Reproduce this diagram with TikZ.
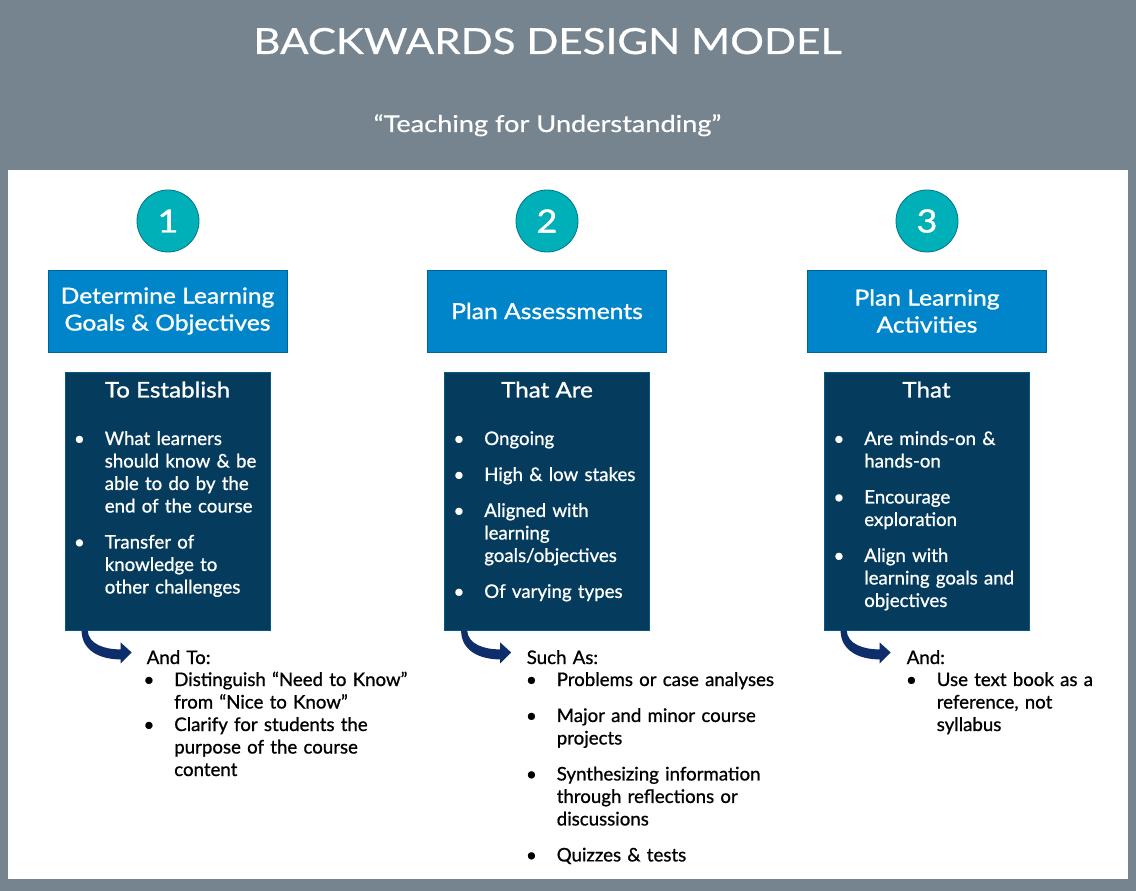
\documentclass[tikz,border=0pt]{standalone}
\usepackage{fontspec}
\setmainfont{Lato}[FakeBold=0.9]
\newfontfamily\widefont{Lato}[FakeBold=1.1, FakeStretch=1.12]
\newfontfamily\headfont{Lato}[FakeBold=0.6, FakeStretch=1.17]
\usetikzlibrary{positioning}
\definecolor{framegray}{HTML}{76848F}
\definecolor{stepteal}{HTML}{00B0B9}
\definecolor{goalblue}{HTML}{0085CA}
\definecolor{listnavy}{HTML}{053B5C}
\definecolor{arrownavy}{HTML}{0E2D6B}
\newcommand{\bul}{\leavevmode\llap{\makebox[0pt]{•}\hspace{19pt}}}
\newcommand{\itemgap}{10.1pt}

\tikzset{
  pagetitle/.style={anchor=base, inner sep=0pt, text=white, font=\headfont\fontsize{27}{32}\selectfont},
  subtitle/.style={anchor=base, inner sep=0pt, text=white, font=\headfont\fontsize{17.4}{20}\selectfont},
  stepnum/.style={circle, fill=stepteal, draw=stepteal!50!listnavy, line width=0.6pt,
    minimum size=46.5pt, inner sep=0pt, text=white, font=\widefont\fontsize{24}{28}\selectfont},
  goalbox/.style={fill=goalblue, draw=goalblue!75!black, line width=0.6pt, inner sep=0pt,
    minimum width=179.25pt, minimum height=61.5pt, align=center, text=white,
    font=\widefont\fontsize{16.5}{20.25}\selectfont},
  listbox/.style={fill=listnavy, draw=listnavy!60!goalblue, line width=0.6pt, inner sep=0pt,
    minimum width=153.75pt, minimum height=193.5pt},
  listhead/.style={anchor=base, inner sep=0pt, text=white, font=\widefont\fontsize{16.2}{19}\selectfont},
  listtext/.style={anchor=base west, inner sep=0pt, align=left, text width=200pt,
    font=\fontsize{14}{16.875}\selectfont},
  bentarrow/.pic={
    \fill [arrownavy] (17,0) .. controls (17,20) and (35,29) .. (56,29) -- (56,33) -- (67,22)
      -- (56,12) -- (56,19) .. controls (40,19) and (24,14) .. (23,0) -- cycle;
  },
}

\begin{document}
\begin{tikzpicture}[x=0.75pt,y=-0.75pt]
    \useasboundingbox (0,0) rectangle (1136,891);
    \fill [framegray] (0,0) rectangle (1136,891);
    \fill [white] (8,170) rectangle (1128,879);
    \node[pagetitle] (title) at (547.5,54) {BACKWARDS DESIGN MODEL};
    \node[subtitle] (subtitle) at (547.5,132) {“Teaching for Understanding”};

    \node[stepnum] (num1) at (168,221) {1};
    \node[goalbox] (goal1) at (167.5,311) {Determine Learning\\Goals \& Objectives};
    \node[listbox] (list1) at (167.5,501) {};
    \node[listhead] (head1) at (167.5,397.5) {To Establish};
    \node[listtext, text=white] (items1) at (104.5,445) {\bul What learners\\should know \& be\\able to do by the\\end of the course\\[\itemgap]\bul Transfer of\\knowledge to\\other challenges};
    \pic at (list1.south west) {bentarrow};
    \node[listtext] (and1) at (146.5,664) {And To:};
    \node[listtext] (more1) at (174,686) {\bul Distinguish “Need to Know”\\from “Nice to Know”\\\bul Clarify for students the\\purpose of the course\\content};

    \node[stepnum] (num2) at (547,221) {2};
    \node[goalbox] (goal2) at (547,311) {Plan Assessments};
    \node[listbox] (list2) at (547,501) {};
    \node[listhead] (head2) at (547,397.5) {That Are};
    \node[listtext, text=white] (items2) at (484,445) {\bul Ongoing\\[\itemgap]\bul High \& low stakes\\[\itemgap]\bul Aligned with\\learning\\goals/objectives\\[\itemgap]\bul Of varying types};
    \pic at (list2.south west) {bentarrow};
    \node[listtext] (and2) at (526.5,664) {Such As:};
    \node[listtext] (more2) at (556.5,686) {\bul Problems or case analyses\\[\itemgap]\bul Major and minor course\\projects\\[\itemgap]\bul Synthesizing information\\through reflections or\\discussions\\[\itemgap]\bul Quizzes \& tests};

    \node[stepnum] (num3) at (927,221) {3};
    \node[goalbox] (goal3) at (927,311) {Plan Learning\\Activities};
    \node[listbox] (list3) at (926.5,501) {};
    \node[listhead] (head3) at (926.5,397.5) {That};
    \node[listtext, text=white] (items3) at (864,445) {\bul Are minds-on \&\\hands-on\\[\itemgap]\bul Encourage\\exploration\\[\itemgap]\bul Align with\\learning goals and\\objectives};
    \pic at (list3.south west) {bentarrow};
    \node[listtext] (and3) at (906.5,664) {And:};
    \node[listtext] (more3) at (936.5,686) {\bul Use text book as a\\reference, not\\syllabus};
\end{tikzpicture}
\end{document}
